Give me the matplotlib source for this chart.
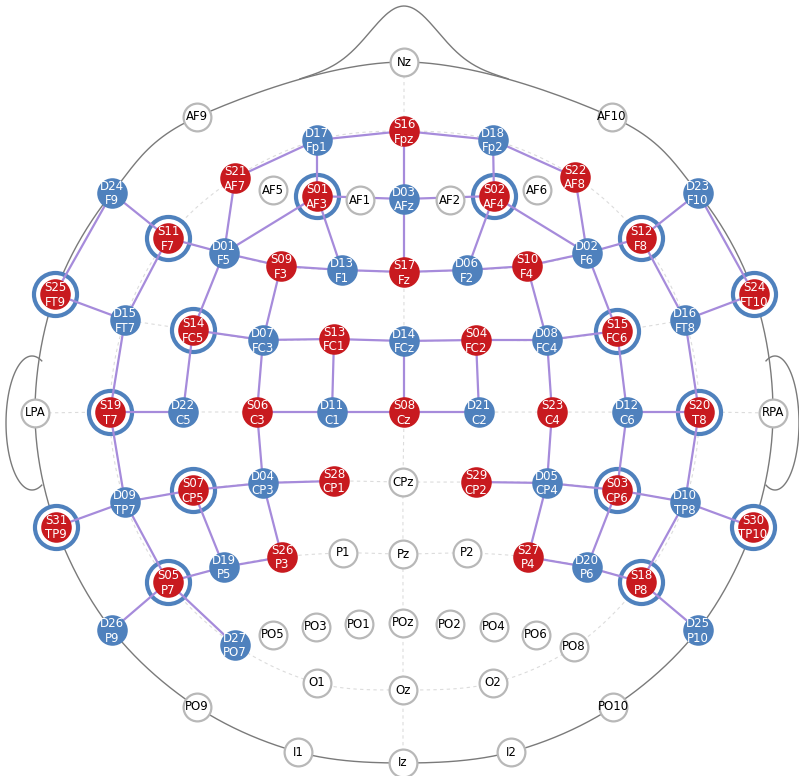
import numpy as np
import matplotlib
matplotlib.use("Agg")
import matplotlib.pyplot as plt

# optode / reference positions (pixel coords, y down)
source_ids = ["S01", "S02", "S03", "S04", "S05", "S06", "S07", "S08", "S09", "S10",
              "S11", "S12", "S13", "S14", "S15", "S16", "S17", "S18", "S19", "S20",
              "S21", "S22", "S23", "S24", "S25", "S26", "S27", "S28", "S29", "S30", "S31"]
source_sites = ["AF3", "AF4", "CP6", "FC2", "P7", "C3", "CP5", "Cz", "F3", "F4",
                "F7", "F8", "FC1", "FC5", "FC6", "Fpz", "Fz", "P8", "T7", "T8",
                "AF7", "AF8", "C4", "FT10", "FT9", "P3", "P4", "CP1", "CP2", "TP10", "TP9"]
source_x = [317, 494, 617, 476, 168, 257, 193, 404, 281, 527,
            168, 641, 334, 193, 617, 404, 404, 641, 110, 699,
            235, 575, 552, 754, 55, 282, 528, 334, 476, 753, 56]
source_y = [196, 196, 490, 340, 582, 412, 490, 412, 266, 266,
            238, 238, 339, 330, 331, 131, 272, 582, 412, 412,
            178, 177, 412, 294, 294, 557, 557, 481, 482, 527, 527]
ringed = ["S01", "S02", "S03", "S05", "S07", "S11", "S12", "S14", "S15",
          "S18", "S19", "S20", "S24", "S25", "S30", "S31"]

detector_ids = ["D01", "D02", "D03", "D04", "D05", "D06", "D07", "D08", "D09",
                "D10", "D11", "D12", "D13", "D14", "D15", "D16", "D17", "D18",
                "D19", "D20", "D21", "D22", "D23", "D24", "D25", "D26", "D27"]
detector_sites = ["F5", "F6", "AFz", "CP3", "CP4", "F2", "FC3", "FC4", "TP7",
                  "TP8", "C1", "C6", "F1", "FCz", "FT7", "FT8", "Fp1", "Fp2",
                  "P5", "P6", "C2", "C5", "F10", "F9", "P10", "P9", "PO7"]
detector_x = [224, 587, 404, 263, 547, 467, 263, 547, 125,
              685, 332, 627, 342, 404, 125, 685, 317, 493,
              224, 587, 479, 183, 698, 112, 698, 112, 235]
detector_y = [253, 253, 199, 483, 483, 270, 340, 340, 502,
              502, 412, 412, 270, 341, 320, 320, 140, 140,
              567, 567, 412, 412, 193, 193, 630, 630, 645]

ref_sites = ["Nz", "AF9", "AF10", "AF5", "AF1", "AF2", "AF6", "LPA", "RPA", "CPz",
             "P1", "Pz", "P2", "PO5", "PO3", "PO1", "POz", "PO2", "PO4", "PO6",
             "PO8", "O1", "Oz", "O2", "PO9", "PO10", "I1", "Iz", "I2"]
ref_x = [404, 197, 612, 273, 360, 450, 537, 35, 773, 403,
         343, 403, 467, 273, 316, 359, 403, 450, 494, 536,
         574, 317, 403, 493, 197, 613, 298, 403, 511]
ref_y = [62, 117, 117, 190, 200, 200, 190, 413, 413, 482,
         553, 554, 553, 635, 627, 624, 623, 624, 627, 635,
         647, 683, 690, 683, 707, 707, 752, 763, 752]

channels = [("S16", "D17"), ("S16", "D18"), ("S16", "D03"),
            ("S21", "D17"), ("S21", "D01"),
            ("S01", "D17"), ("S01", "D03"), ("S01", "D01"), ("S01", "D13"),
            ("S02", "D18"), ("S02", "D03"), ("S02", "D02"), ("S02", "D06"),
            ("S22", "D18"), ("S22", "D02"),
            ("S11", "D24"), ("S11", "D01"), ("S11", "D15"),
            ("S12", "D23"), ("S12", "D02"), ("S12", "D16"),
            ("S25", "D24"), ("S25", "D15"), ("S24", "D23"), ("S24", "D16"),
            ("S09", "D01"), ("S09", "D13"), ("S09", "D07"),
            ("S17", "D03"), ("S17", "D13"), ("S17", "D06"),
            ("S10", "D06"), ("S10", "D02"), ("S10", "D08"),
            ("S14", "D01"), ("S14", "D07"), ("S14", "D22"),
            ("S15", "D02"), ("S15", "D08"), ("S15", "D12"),
            ("S13", "D07"), ("S13", "D14"), ("S13", "D11"),
            ("S04", "D14"), ("S04", "D08"), ("S04", "D21"),
            ("S19", "D15"), ("S19", "D22"), ("S19", "D09"),
            ("S20", "D16"), ("S20", "D12"), ("S20", "D10"),
            ("S06", "D07"), ("S06", "D11"), ("S06", "D04"),
            ("S08", "D14"), ("S08", "D11"), ("S08", "D21"),
            ("S23", "D08"), ("S23", "D05"),
            ("S07", "D09"), ("S07", "D04"), ("S07", "D19"),
            ("S03", "D12"), ("S03", "D05"), ("S03", "D10"), ("S03", "D20"),
            ("S28", "D04"), ("S29", "D05"), ("S31", "D09"), ("S30", "D10"),
            ("S26", "D04"), ("S26", "D19"), ("S27", "D05"), ("S27", "D20"),
            ("S05", "D09"), ("S05", "D19"), ("S05", "D26"), ("S05", "D27"),
            ("S18", "D10"), ("S18", "D20"), ("S18", "D25")]

# head outline and faint 10-10 guide lines
outer_ring = ["Nz", "AF10", "F10", "FT10", "RPA", "TP10", "P10", "PO10", "I2", "Iz",
              "I1", "PO9", "P9", "TP9", "LPA", "FT9", "F9", "AF9"]
inner_ring = ["Fpz", "Fp2", "AF8", "F8", "FT8", "T8", "TP8", "P8", "PO8", "O2", "Oz",
              "O1", "PO7", "P7", "TP7", "T7", "FT7", "F7", "AF7", "Fp1"]
guide_rows = [["F7", "F5", "F3", "F1", "Fz", "F2", "F4", "F6", "F8"],
              ["FT7", "FC5", "FC3", "FC1", "FCz", "FC2", "FC4", "FC6", "FT8"],
              ["LPA", "T7", "C5", "C3", "C1", "Cz", "C2", "C4", "C6", "T8", "RPA"],
              ["TP7", "CP5", "CP3", "CP1", "CPz", "CP2", "CP4", "CP6", "TP8"],
              ["P7", "P5", "P3", "P1", "Pz", "P2", "P4", "P6", "P8"],
              ["Nz", "Fpz", "AFz", "Fz", "FCz", "Cz", "CPz", "Pz", "POz", "Oz", "Iz"]]

RED = "#c81a1f"
BLUE = "#4f81bd"
PURPLE = "#a68bdb"


def catmull_rom(points, closed=False, n=24):
    pts = np.array(points, dtype=float)
    if closed:
        P = np.vstack([pts[-1], pts, pts[0], pts[1]])
    else:
        P = np.vstack([2 * pts[0] - pts[1], pts, 2 * pts[-1] - pts[-2]])
    t = np.linspace(0, 1, n, endpoint=False)[:, None]
    out = []
    for i in range(1, len(P) - 2):
        p0, p1, p2, p3 = P[i - 1], P[i], P[i + 1], P[i + 2]
        out.append(0.5 * (2 * p1 + (-p0 + p2) * t
                          + (2 * p0 - 5 * p1 + 4 * p2 - p3) * t ** 2
                          + (-p0 + 3 * p1 - 3 * p2 + p3) * t ** 3))
    out.append(P[-2][None])
    return np.vstack(out)


pos = {}
for s, x, y in zip(source_sites, source_x, source_y):
    pos[s] = (x, y)
for s, x, y in zip(detector_sites, detector_x, detector_y):
    pos[s] = (x, y)
for s, x, y in zip(ref_sites, ref_x, ref_y):
    pos[s] = (x, y)
id_pos = {i: (x, y) for i, x, y in zip(source_ids, source_x, source_y)}
id_pos.update({i: (x, y) for i, x, y in zip(detector_ids, detector_x, detector_y)})

fig = plt.figure(figsize=(7.99, 7.76), dpi=100)
ax = fig.add_axes([0, 0, 1, 1])
ax.set_xlim(0, 799)
ax.set_ylim(776, 0)
ax.axis("off")

# guide lines
for row in guide_rows:
    c = catmull_rom([pos[s] for s in row])
    ax.plot(c[:, 0], c[:, 1], color="#dcdcdc", lw=0.8, ls=(0, (3, 3)), zorder=1)
c = catmull_rom([pos[s] for s in inner_ring], closed=True)
ax.plot(c[:, 0], c[:, 1], color="#dcdcdc", lw=0.8, ls=(0, (3, 3)), zorder=1)

# head, nose, ears
head = catmull_rom([pos[s] for s in outer_ring], closed=True)
ax.plot(head[:, 0], head[:, 1], color="#7a7a7a", lw=1.0, zorder=2)
top = head[head[:, 1] < 160]
order = np.argsort(top[:, 0])
nx = np.linspace(300, 508, 200)
base = np.interp(nx, top[order, 0], top[order, 1])
ax.plot(nx, base - 56 * np.exp(-((nx - 404) / 46) ** 2), color="#7a7a7a", lw=1.0, zorder=2)
t = np.radians(np.linspace(68, 292, 100))
ax.plot(32 + 26 * np.cos(t), 423 - 67 * np.sin(t), color="#7a7a7a", lw=1.0, zorder=2)
ax.plot(775 - 24 * np.cos(t), 423 - 67 * np.sin(t), color="#7a7a7a", lw=1.0, zorder=2)

# rings around the highlighted sources
rx = [id_pos[s][0] for s in ringed]
ry = [id_pos[s][1] for s in ringed]
ax.scatter(rx, ry, s=31 ** 2, facecolors="white", edgecolors=BLUE, linewidths=3.0, zorder=3)

# source-detector channels
for s, d in channels:
    (x0, y0), (x1, y1) = id_pos[s], id_pos[d]
    ax.plot([x0, x1], [y0, y1], color=PURPLE, lw=1.6, zorder=4, solid_capstyle="butt")

# reference sites
ax.scatter(ref_x, ref_y, s=20 ** 2, facecolors="white", edgecolors="#b8b8b8",
           linewidths=1.6, zorder=5)
for s, x, y in zip(ref_sites, ref_x, ref_y):
    ax.text(x, y, s, ha="center", va="center", fontsize=8.5, color="black", zorder=6)

# sources and detectors
ax.scatter(source_x, source_y, s=22 ** 2, color=RED, linewidths=0, zorder=5)
ax.scatter(detector_x, detector_y, s=22 ** 2, color=BLUE, linewidths=0, zorder=5)
for i, s, x, y in zip(source_ids + detector_ids, source_sites + detector_sites,
                      source_x + detector_x, source_y + detector_y):
    ax.text(x, y - 6.5, i, ha="center", va="center", fontsize=8.5, color="white", zorder=6)
    ax.text(x, y + 8, s, ha="center", va="center", fontsize=8.5, color="white", zorder=6)

fig.savefig("out.png", dpi=100, facecolor="white")
